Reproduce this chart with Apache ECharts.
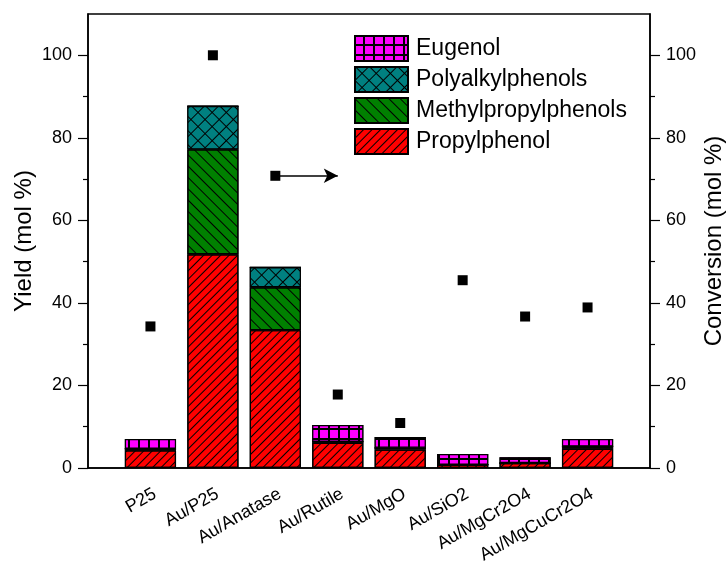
<!DOCTYPE html>
<html>
<head>
<meta charset="utf-8">
<script src="https://cdn.jsdelivr.net/npm/echarts@6/dist/echarts.min.js"></script>
<style>
html,body{margin:0;padding:0;background:#fff;}
#chart{width:728px;height:563px;}
</style>
</head>
<body>
<div id="chart"></div>
<script>
// ---- data ----
var categories = ['P25', 'Au/P25', 'Au/Anatase', 'Au/Rutile', 'Au/MgO', 'Au/SiO2', 'Au/MgCr2O4', 'Au/MgCuCr2O4'];
var propylphenol        = [4.3, 51.8, 33.4, 6.1, 4.5, 0.8, 1.2, 4.65];
var methylpropylphenols = [0.4, 25.4, 10.4, 0.3, 0.4, 0.0, 0.0, 0.6];
var polyalkylphenols    = [0.0, 10.5, 4.8, 0.0, 0.0, 0.0, 0.0, 0.0];
var eugenol             = [2.3, 0.0, 0.0, 4.0, 2.6, 2.6, 1.4, 1.75];
var conversion          = [34.3, 100, 70.8, 17.8, 10.9, 45.5, 36.7, 38.9];
var majorTicks = [0, 20, 40, 60, 80, 100];
var minorTicks = [10, 30, 50, 70, 90];
var arrowEndX = 3.92; // arrow annotation end, in category-axis index units

var FONT = 'Liberation Sans, Arial, sans-serif';

// pad one empty slot on each side so the categories sit at 1..8 of a 0..9 axis
var axisCategories = [' '].concat(categories, ['  ']);
function padded(arr) { return ['-'].concat(arr, ['-']); }

var chart = echarts.init(document.getElementById('chart'), null, {renderer: 'canvas'});

function barSeries(name, data, color, decal) {
  return {
    name: name, type: 'bar', stack: 'yield', data: padded(data),
    barWidth: '82%',
    itemStyle: { color: color, borderColor: '#000', borderWidth: 1.2, decal: decal },
    emphasis: { disabled: true }
  };
}

function yAxisMain(position, name, gap) {
  return {
    type: 'value', min: 0, max: 110, position: position,
    name: name, nameLocation: 'middle', nameRotate: 90, nameGap: gap,
    nameMoveOverlap: false,
    nameTextStyle: { fontSize: 24, color: '#000', fontFamily: FONT },
    axisLine: { show: true, lineStyle: { color: '#000', width: 1.5 } },
    axisTick: { show: true, inside: false, length: 10, customValues: majorTicks, lineStyle: { color: '#000', width: 1.2 } },
    minorTick: { show: false },
    splitLine: { show: false },
    axisLabel: { fontSize: 18, color: '#000', fontFamily: FONT, margin: 16, customValues: majorTicks }
  };
}
function yAxisMinor(position) {
  return {
    type: 'value', min: 0, max: 110, position: position,
    axisLine: { show: false },
    axisTick: { show: true, inside: false, length: 5, customValues: minorTicks, lineStyle: { color: '#000', width: 1.2 } },
    splitLine: { show: false },
    axisLabel: { show: false }
  };
}

var option = {
  animation: false,
  backgroundColor: '#fff',
  grid: {
    left: 88, right: 78, top: 14, bottom: 95,
    containLabel: false, outerBoundsMode: 'none',
    show: true, borderColor: '#000', borderWidth: 1.5, backgroundColor: 'transparent'
  },
  legend: {
    data: ['Eugenol', 'Polyalkylphenols', 'Methylpropylphenols', 'Propylphenol'],
    orient: 'vertical', left: 349, top: 30,
    itemWidth: 53, itemHeight: 25, itemGap: 4,
    icon: 'rect',
    textStyle: { fontSize: 23, color: '#000', fontFamily: FONT, padding: [0, 0, 0, 3] },
    selectedMode: false
  },
  xAxis: {
    type: 'category', data: axisCategories, boundaryGap: false,
    axisLine: { show: true, onZero: false, lineStyle: { color: '#000', width: 1.5 } },
    axisTick: { show: false },
    splitLine: { show: false },
    axisLabel: {
      interval: 0, rotate: 30, fontSize: 18, color: '#000', fontFamily: FONT, margin: 17,
      align: 'right', verticalAlign: 'top'
    }
  },
  yAxis: [
    yAxisMain('left', 'Yield (mol %)', 52),
    yAxisMain('right', 'Conversion (mol %)', 52),
    yAxisMinor('left'),
    yAxisMinor('right')
  ],
  series: [
    barSeries('Propylphenol', propylphenol, '#FF0000',
      { symbol: 'rect', color: '#000', dashArrayX: [1, 0], dashArrayY: [1, 5], rotation: -Math.PI / 4 }),
    barSeries('Methylpropylphenols', methylpropylphenols, '#008000',
      { symbol: 'rect', color: '#000', dashArrayX: [1, 0], dashArrayY: [1, 6.2], rotation: Math.PI / 4 }),
    barSeries('Polyalkylphenols', polyalkylphenols, '#000',
      { symbol: 'rect', color: '#008080', dashArrayX: [8.2, 1], dashArrayY: [8.2, 1], rotation: Math.PI / 4 }),
    barSeries('Eugenol', eugenol, '#000',
      { symbol: 'rect', color: '#FF00FF', dashArrayX: [7.2, 1.2], dashArrayY: [7.2, 1.2], rotation: 0 }),
    {
      name: 'Conversion', type: 'scatter', yAxisIndex: 1,
      data: padded(conversion),
      symbol: 'rect', symbolSize: 10,
      itemStyle: { color: '#000', opacity: 1 },
      z: 10,
      markLine: {
        silent: true, symbol: ['none', 'arrow'], symbolSize: [11, 14], z: 9,
        lineStyle: { color: '#000', width: 1.5, type: 'solid', opacity: 1 },
        label: { show: false },
        data: [[{ coord: [categories[2], conversion[2]] }, { coord: [arrowEndX, conversion[2]] }]]
      }
    }
  ]
};
chart.setOption(option);
</script>
</body>
</html>
